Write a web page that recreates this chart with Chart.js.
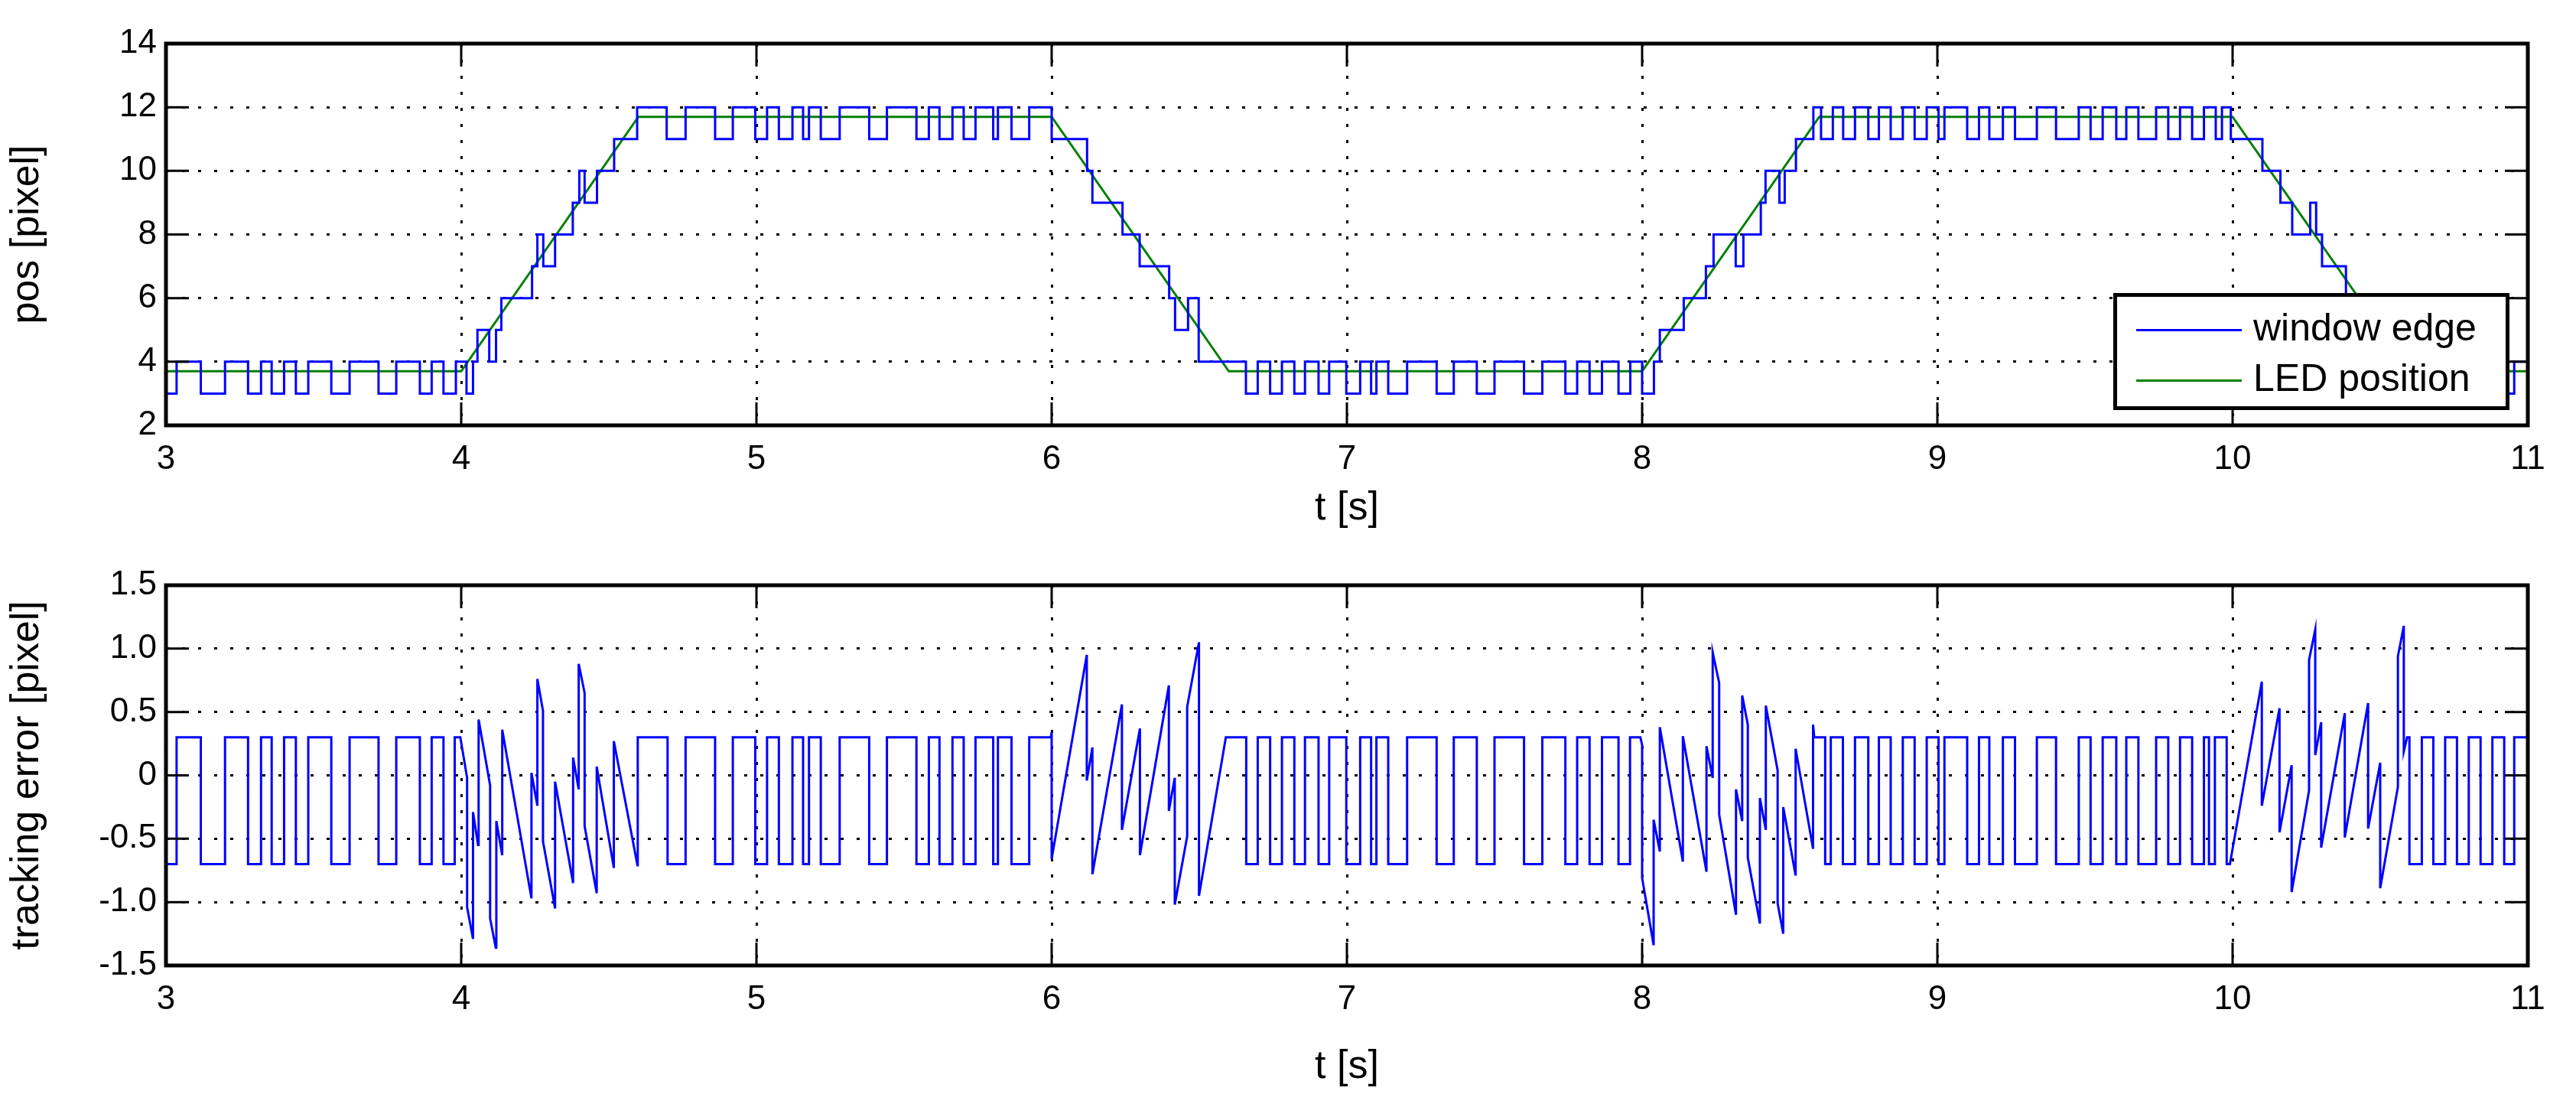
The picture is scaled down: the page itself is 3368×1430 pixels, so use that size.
<!DOCTYPE html>
<html>
<head>
<meta charset="utf-8">
<script src="https://cdn.jsdelivr.net/npm/chart.js@4"></script>
<style>
  body { margin: 0; background: #fff; width: 3368px; height: 1430px; overflow: hidden; position: relative; font-family: "Liberation Sans", Arial, sans-serif; }
  .box { position: absolute; left: 0; width: 3368px; }
  #legend { position: absolute; left: 2763px; top: 383px; width: 508px; height: 143px; border: 5px solid #000; background: #fff; font-size: 50px; }
  #legend div { position: absolute; left: 178px; white-space: nowrap; line-height: 60px; }
  #legend span { position: absolute; left: 25px; width: 138px; height: 3px; }
</style>
</head>
<body>
<div class="box" style="top:0;height:700px"><canvas id="pos-chart"></canvas></div>
<div class="box" style="top:700px;height:730px"><canvas id="err-chart"></canvas></div>
<div id="legend">
  <span style="top:42px;background:#0000ff"></span><div style="top:10px">window edge</div>
  <span style="top:108px;background:#008000"></span><div style="top:76px">LED position</div>
</div>
<script>
// window edge: step start times and values (pixel)
const winT = [3.0, 3.036, 3.118, 3.2, 3.278, 3.322, 3.358, 3.4, 3.44, 3.482, 3.56, 3.622, 3.72, 3.78, 3.86, 3.9, 3.94, 3.982, 4.018, 4.04,
  4.055, 4.095, 4.118, 4.136, 4.24, 4.258, 4.278, 4.318, 4.378, 4.4, 4.418, 4.46, 4.518, 4.596, 4.696, 4.76, 4.86, 4.92, 4.996, 5.036,
  5.076, 5.122, 5.158, 5.178, 5.218, 5.282, 5.382, 5.442, 5.542, 5.584, 5.62, 5.664, 5.702, 5.742, 5.802, 5.818, 5.864, 5.924, 6.0, 6.12,
  6.138, 6.24, 6.298, 6.398, 6.418, 6.462, 6.498, 6.658, 6.698, 6.74, 6.78, 6.822, 6.858, 6.904, 6.94, 6.998, 7.045, 7.082, 7.1, 7.14,
  7.204, 7.304, 7.362, 7.44, 7.5, 7.6, 7.662, 7.74, 7.78, 7.822, 7.864, 7.92, 7.96, 8.0, 8.04, 8.06, 8.141, 8.216, 8.242, 8.317,
  8.343, 8.402, 8.418, 8.465, 8.483, 8.521, 8.58, 8.606, 8.646, 8.681, 8.721, 8.766, 8.802, 8.842, 8.883, 8.923, 8.964, 9.004, 9.024, 9.101,
  9.141, 9.176, 9.222, 9.263, 9.337, 9.402, 9.479, 9.519, 9.56, 9.606, 9.64, 9.681, 9.741, 9.782, 9.822, 9.863, 9.903, 9.943, 9.964, 9.994,
  10.101, 10.162, 10.202, 10.263, 10.283, 10.303, 10.384, 10.46, 10.52, 10.599, 10.641, 10.68, 10.72, 10.76, 10.8, 10.84, 10.88, 10.92, 10.954, 11.0];
const winV = [3, 4, 3, 4, 3, 4, 3, 4, 3, 4, 3, 4, 3, 4, 3, 4, 3, 4, 3, 4,
  5, 4, 5, 6, 7, 8, 7, 8, 9, 10, 9, 10, 11, 12, 11, 12, 11, 12, 11, 12,
  11, 12, 11, 12, 11, 12, 11, 12, 11, 12, 11, 12, 11, 12, 11, 12, 11, 12, 11, 10,
  9, 8, 7, 6, 5, 6, 4, 3, 4, 3, 4, 3, 4, 3, 4, 3, 4, 3, 4, 3,
  4, 3, 4, 3, 4, 3, 4, 3, 4, 3, 4, 3, 4, 3, 4, 5, 6, 7, 8, 7,
  8, 9, 10, 9, 10, 11, 12, 11, 12, 11, 12, 11, 12, 11, 12, 11, 12, 11, 12, 11,
  12, 11, 12, 11, 12, 11, 12, 11, 12, 11, 12, 11, 12, 11, 12, 11, 12, 11, 12, 11,
  10, 9, 8, 9, 8, 7, 6, 5, 4, 3, 4, 3, 4, 3, 4, 3, 4, 3, 4, 4];

// LED position corners
const ledT = [3.0, 4.0, 4.6, 6.0, 6.6, 8.0, 8.6, 10.0, 10.6, 11.0];
const ledV = [3.7, 3.7, 11.7, 11.7, 3.7, 3.7, 11.7, 11.7, 3.7, 3.7];

// tracking error: flat (stepped) stretches, [start t, value]
const errFlat0 = [[3.0, -0.7], [3.036, 0.3], [3.118, -0.7], [3.2, 0.3], [3.278, -0.7], [3.322, 0.3], [3.358, -0.7], [3.4, 0.3], [3.44, -0.7],
  [3.482, 0.3], [3.56, -0.7], [3.622, 0.3], [3.72, -0.7], [3.78, 0.3], [3.86, -0.7], [3.9, 0.3], [3.94, -0.7], [3.978, 0.3]];
const errFlat1 = [[4.598, 0.3], [4.699, -0.7], [4.76, 0.3], [4.86, -0.7], [4.92, 0.3], [4.996, -0.7], [5.036, 0.3], [5.076, -0.7], [5.122, 0.3],
  [5.158, -0.7], [5.178, 0.3], [5.218, -0.7], [5.282, 0.3], [5.382, -0.7], [5.442, 0.3], [5.542, -0.7], [5.584, 0.3], [5.62, -0.7],
  [5.664, 0.3], [5.702, -0.7], [5.742, 0.3], [5.802, -0.7], [5.818, 0.3], [5.864, -0.7], [5.924, 0.3]];
const errFlat2 = [[6.59, 0.3], [6.659, -0.7], [6.698, 0.3], [6.74, -0.7], [6.78, 0.3], [6.822, -0.7], [6.858, 0.3], [6.904, -0.7], [6.94, 0.3],
  [6.998, -0.7], [7.045, 0.3], [7.082, -0.7], [7.1, 0.3], [7.14, -0.7], [7.204, 0.3], [7.304, -0.7], [7.362, 0.3], [7.44, -0.7], [7.5, 0.3],
  [7.6, -0.7], [7.662, 0.3], [7.74, -0.7], [7.78, 0.3], [7.822, -0.7], [7.864, 0.3], [7.92, -0.7], [7.959, 0.3]];
const errFlat3 = [[8.583, 0.3], [8.62, -0.7], [8.639, 0.3], [8.68, -0.7], [8.721, 0.3], [8.766, -0.7], [8.802, 0.3], [8.842, -0.7], [8.883, 0.3],
  [8.923, -0.7], [8.964, 0.3], [9.004, -0.7], [9.024, 0.3], [9.101, -0.7], [9.141, 0.3], [9.176, -0.7], [9.222, 0.3], [9.263, -0.7],
  [9.337, 0.3], [9.402, -0.7], [9.479, 0.3], [9.519, -0.7], [9.56, 0.3], [9.606, -0.7], [9.64, 0.3], [9.681, -0.7], [9.741, 0.3],
  [9.782, -0.7], [9.822, 0.3], [9.863, -0.7], [9.903, 0.3], [9.92, -0.7], [9.94, 0.3], [9.98, -0.7]];
const errFlat4 = [[10.591, 0.3], [10.599, -0.7], [10.641, 0.3], [10.68, -0.7], [10.72, 0.3], [10.76, -0.7], [10.8, 0.3], [10.84, -0.7],
  [10.88, 0.3], [10.92, -0.7], [10.954, 0.3]];

// tracking error during the ramps, [t, value] points
const errRamp1 = [[3.997, 0.30], [4.020, -0.02], [4.020, -1.04], [4.040, -1.29], [4.040, -0.29], [4.057, -0.55], [4.059, 0.44], [4.098, -0.08],
  [4.098, -1.13], [4.117, -1.36], [4.119, -0.36], [4.139, -0.63], [4.139, 0.36], [4.238, -0.97], [4.238, 0.02], [4.258, -0.24], [4.258, 0.76],
  [4.277, 0.51], [4.277, -0.52], [4.318, -1.05], [4.318, -0.05], [4.379, -0.85], [4.379, 0.14], [4.398, -0.11], [4.398, 0.88], [4.418, 0.65],
  [4.418, -0.40], [4.459, -0.93], [4.459, 0.07], [4.517, -0.73], [4.517, 0.27], [4.597, -0.71]];
const errRamp2 = [[5.997, 0.30], [6.0, 0.34], [6.0, -0.66], [6.119, 0.95], [6.119, -0.04], [6.138, 0.22], [6.138, -0.78], [6.238, 0.56],
  [6.238, -0.43], [6.299, 0.37], [6.299, -0.63], [6.397, 0.71], [6.397, -0.28], [6.417, -0.02], [6.417, -1.02], [6.459, -0.48], [6.459, 0.54],
  [6.499, 1.05], [6.499, -0.95]];
const errRamp3 = [[7.994, 0.30], [8.0, 0.24], [8.0, -0.81], [8.039, -1.34], [8.039, -0.35], [8.06, -0.60], [8.06, 0.38], [8.138, -0.68],
  [8.138, 0.31], [8.218, -0.76], [8.218, 0.23], [8.239, -0.02], [8.239, 0.97], [8.261, 0.73], [8.261, -0.31], [8.318, -1.10], [8.318, -0.11],
  [8.339, -0.36], [8.339, 0.63], [8.358, 0.40], [8.358, -0.65], [8.399, -1.17], [8.399, -0.18], [8.419, -0.43], [8.419, 0.55], [8.459, 0.04],
  [8.459, -1.01], [8.478, -1.25], [8.478, -0.25], [8.52, -0.79], [8.52, 0.21], [8.579, -0.58], [8.579, 0.40]];
const errRamp4 = [[9.991, -0.70], [10.099, 0.74], [10.099, -0.24], [10.159, 0.53], [10.159, -0.45], [10.2, 0.08], [10.2, -0.92], [10.259, -0.12],
  [10.259, 0.91], [10.28, 1.15], [10.28, 0.16], [10.3, 0.42], [10.3, -0.57], [10.38, 0.49], [10.38, -0.49], [10.459, 0.57], [10.459, -0.42],
  [10.5, 0.10], [10.5, -0.89], [10.56, -0.09], [10.56, 0.94], [10.58, 1.18], [10.58, 0.19]];

const xTicks = [3, 4, 5, 6, 7, 8, 9, 10, 11];

// build error line from alternating flat / ramp parts
const errParts = [errFlat0, errRamp1, errFlat1, errRamp2, errFlat2, errRamp3, errFlat3, errRamp4, errFlat4];
const errPoints = [];
errParts.forEach((part, k) => {
  const flat = k % 2 === 0;
  const next = errParts[k + 1];
  part.forEach((p, i) => {
    errPoints.push({ x: p[0], y: p[1] });
    if (flat) {
      const end = i + 1 < part.length ? part[i + 1][0] : (next ? next[0][0] : 11);
      errPoints.push({ x: end, y: p[1] });
    }
  });
});

const FONT = "'Liberation Sans', Arial, sans-serif";

// box around the plot + inward tick marks like matlab
const frame = {
  id: 'frame',
  afterDraw(chart) {
    const c = chart.ctx, a = chart.chartArea;
    const xs = chart.scales.x, ys = chart.scales.y;
    c.save();
    c.strokeStyle = '#000';
    c.lineWidth = 3;
    c.beginPath();
    xs.ticks.forEach(t => {
      const px = xs.getPixelForValue(t.value);
      c.moveTo(px, a.bottom); c.lineTo(px, a.bottom - 30);
      c.moveTo(px, a.top); c.lineTo(px, a.top + 30);
    });
    ys.ticks.forEach(t => {
      const py = ys.getPixelForValue(t.value);
      c.moveTo(a.left, py); c.lineTo(a.left + 30, py);
      c.moveTo(a.right, py); c.lineTo(a.right - 30, py);
    });
    c.stroke();
    c.lineWidth = 5;
    c.strokeRect(a.left, a.top, a.right - a.left, a.bottom - a.top);
    c.restore();
  }
};

function axes(yMin, yMax, yStep, yTitle, yWidth, xHeight) {
  return {
    x: {
      type: 'linear', min: 3, max: 11,
      afterBuildTicks: s => { s.ticks = xTicks.map(v => ({ value: v })); },
      grid: { color: '#000', lineWidth: 3, drawTicks: false },
      border: { display: false, dash: [4, 17] },
      ticks: { color: '#000', font: { family: FONT, size: 44 }, padding: 18, maxRotation: 0 },
      title: { display: true, text: 't [s]', color: '#000', font: { family: FONT, size: 52 }, padding: { top: 6 } },
      afterFit: s => { s.height = xHeight; }
    },
    y: {
      min: yMin, max: yMax,
      ticks: { stepSize: yStep, color: '#000', font: { family: FONT, size: 44 }, padding: 12 },
      grid: { color: '#000', lineWidth: 3, drawTicks: false },
      border: { display: false, dash: [4, 17] },
      title: { display: true, text: yTitle, color: '#000', font: { family: FONT, size: 52 }, padding: { bottom: 10 } },
      afterFit: s => { s.width = yWidth; }
    }
  };
}

new Chart(document.getElementById('pos-chart'), {
  type: 'line',
  data: {
    datasets: [
      { label: 'window edge', data: winT.map((t, i) => ({ x: t, y: winV[i] })), borderColor: '#0000ff', borderWidth: 3, stepped: true, pointRadius: 0 },
      { label: 'LED position', data: ledT.map((t, i) => ({ x: t, y: ledV[i] })), borderColor: '#008000', borderWidth: 3, pointRadius: 0 }
    ]
  },
  options: {
    responsive: true, maintainAspectRatio: false, animation: false,
    layout: { padding: { top: 57, right: 63, left: 0, bottom: 0 } },
    plugins: { legend: { display: false }, tooltip: { enabled: false } },
    scales: axes(2, 14, 2, 'pos [pixel]', 217, 144)
  },
  plugins: [frame]
});

new Chart(document.getElementById('err-chart'), {
  type: 'line',
  data: {
    datasets: [
      { label: 'tracking error', data: errPoints, borderColor: '#0000ff', borderWidth: 3, pointRadius: 0 }
    ]
  },
  options: {
    responsive: true, maintainAspectRatio: false, animation: false,
    layout: { padding: { top: 65, right: 63, left: 0, bottom: 0 } },
    plugins: { legend: { display: false }, tooltip: { enabled: false } },
    scales: axes(-1.5, 1.5, 0.5, 'tracking error [pixel]', 217, 168)
  },
  plugins: [frame]
});
</script>
</body>
</html>
